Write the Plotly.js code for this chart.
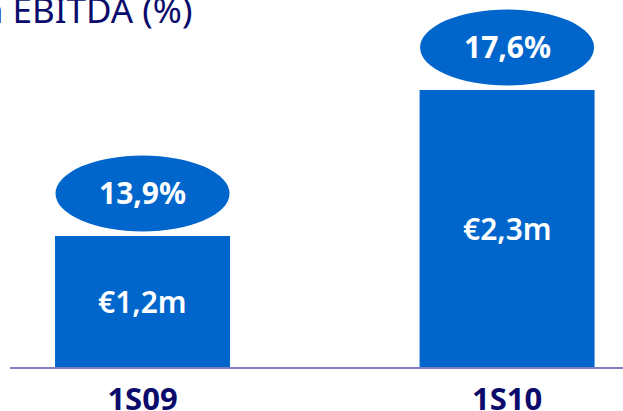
<!DOCTYPE html>
<html>
<head>
<meta charset="utf-8">
<script src="https://cdn.plot.ly/plotly-3.0.1.min.js"></script>
<style>html,body{margin:0;padding:0;background:#fff;}#chart{width:623px;height:411px;}</style>
</head>
<body>
<div id="chart"></div>
<script>
const categories = ["1S09", "1S10"];
const ebitdaValues = [1.2, 2.3];
const ebitdaLabels = ["€1,2m", "€2,3m"];
const marginLabels = ["13,9%", "17,6%"];
const titleText = "Margen EBITDA (%)";

const blue = "#0066CC";
const navy = "#0B0B6B";
const yMin = 0.213, yMax = 2.978;

const shapes = [];
const annotations = [];
categories.forEach((c, i) => {
  shapes.push({
    type: "circle", xref: "x", yref: "y",
    xsizemode: "pixel", ysizemode: "pixel",
    xanchor: i, yanchor: ebitdaValues[i],
    x0: -87, x1: 87, y0: 4.5, y1: 80.5,
    fillcolor: blue, line: {width: 0}, layer: "above"
  });
  annotations.push({
    x: i, y: ebitdaValues[i], xref: "x", yref: "y",
    yshift: 43, text: "<b>" + marginLabels[i] + "</b>", showarrow: false,
    xanchor: "center", yanchor: "middle",
    font: {family: "Noto Sans", size: 30, color: "#ffffff"}
  });
  annotations.push({
    x: i, y: (ebitdaValues[i] + yMin) / 2, xref: "x", yref: "y",
    text: ebitdaLabels[i], showarrow: false,
    xanchor: "center", yanchor: "middle",
    font: {family: "Noto Sans", size: 30, color: "#ffffff", weight: 600}
  });
});
annotations.push({
  xref: "paper", yref: "paper", x: (194 - 10) / 613, y: 1,
  xanchor: "right", yanchor: "top", yshift: 16,
  text: titleText, showarrow: false,
  font: {family: "Noto Sans", size: 35, color: navy}
});

const trace = {
  type: "bar", x: categories.map((c, i) => i), y: ebitdaValues,
  width: 0.48, marker: {color: blue, line: {width: 0}},
  hoverinfo: "none"
};

const layout = {
  width: 623, height: 411,
  margin: {l: 10, r: 0, t: 0, b: 44},
  paper_bgcolor: "#ffffff", plot_bgcolor: "#ffffff",
  showlegend: false,
  xaxis: {
    range: [-0.3635, 1.318], tickmode: "array", tickvals: [0, 1], ticktext: categories.map(c => "<b>" + c + "</b>"),
    showgrid: false, zeroline: false, showline: true, linecolor: "rgba(40,40,150,0.6)", linewidth: 2,
    ticks: "", ticklabelstandoff: 4, tickfont: {family: "Open Sans", size: 31, color: navy}, fixedrange: true
  },
  yaxis: {range: [yMin, yMax], visible: false, showgrid: false, zeroline: false, fixedrange: true},
  shapes: shapes,
  annotations: annotations
};

Plotly.newPlot("chart", [trace], layout, {staticPlot: true, displayModeBar: false});
</script>
</body>
</html>
